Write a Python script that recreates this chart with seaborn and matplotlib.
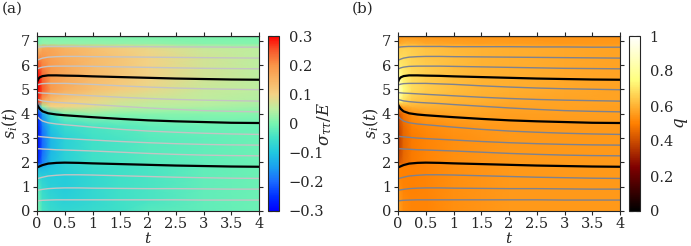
import numpy as np
import pandas as pd
import matplotlib
matplotlib.use("Agg")
import matplotlib.pyplot as plt
import seaborn as sns
from matplotlib.colors import LinearSegmentedColormap, Normalize

sns.set_style("ticks")
plt.rcParams['font.family'] = ['DejaVu Serif']
plt.rcParams['mathtext.fontset'] = 'dejavuserif'

# ---- trajectories s_i(t) ----
t_pts = [0, 0.02, 0.05, 0.1, 0.2, 0.35, 0.5, 0.75, 1.0, 1.5, 2, 2.5, 3, 3.5, 4]
line01 = [0.42, 0.42, 0.43, 0.44, 0.45, 0.46, 0.46, 0.46, 0.46, 0.46, 0.46, 0.46, 0.45, 0.45, 0.45]
line02 = [0.86, 0.86, 0.87, 0.89, 0.92, 0.94, 0.95, 0.95, 0.94, 0.93, 0.92, 0.92, 0.91, 0.90, 0.90]
line03 = [1.34, 1.34, 1.36, 1.39, 1.44, 1.47, 1.49, 1.49, 1.48, 1.45, 1.42, 1.39, 1.37, 1.35, 1.34]
line04 = [1.80, 1.81, 1.84, 1.89, 1.95, 1.98, 1.99, 1.98, 1.96, 1.93, 1.90, 1.87, 1.85, 1.83, 1.82]
line05 = [2.56, 2.56, 2.56, 2.55, 2.54, 2.52, 2.51, 2.49, 2.47, 2.42, 2.37, 2.33, 2.30, 2.28, 2.27]
line06 = [3.08, 3.07, 3.06, 3.05, 3.03, 3.00, 2.98, 2.95, 2.92, 2.86, 2.81, 2.77, 2.74, 2.72, 2.71]
line07 = [3.90, 3.85, 3.78, 3.70, 3.63, 3.58, 3.55, 3.50, 3.45, 3.36, 3.29, 3.24, 3.20, 3.17, 3.15]
line08 = [4.38, 4.30, 4.20, 4.10, 4.02, 3.97, 3.94, 3.90, 3.86, 3.79, 3.73, 3.69, 3.66, 3.63, 3.62]
line09 = [4.60, 4.58, 4.56, 4.53, 4.50, 4.47, 4.45, 4.42, 4.38, 4.31, 4.24, 4.18, 4.13, 4.10, 4.08]
line10 = [4.87, 4.87, 4.86, 4.85, 4.84, 4.82, 4.80, 4.77, 4.74, 4.68, 4.63, 4.59, 4.56, 4.54, 4.52]
line11 = [5.18, 5.20, 5.22, 5.24, 5.25, 5.25, 5.25, 5.23, 5.21, 5.15, 5.10, 5.06, 5.03, 5.01, 4.99]
line12 = [5.30, 5.42, 5.50, 5.55, 5.58, 5.58, 5.57, 5.56, 5.54, 5.51, 5.48, 5.45, 5.43, 5.41, 5.40]
line13 = [5.84, 5.86, 5.89, 5.92, 5.95, 5.96, 5.96, 5.96, 5.95, 5.93, 5.91, 5.89, 5.87, 5.86, 5.85]
line14 = [6.20, 6.22, 6.25, 6.29, 6.33, 6.35, 6.36, 6.36, 6.35, 6.34, 6.33, 6.32, 6.31, 6.30, 6.29]
line15 = [6.74, 6.74, 6.75, 6.76, 6.77, 6.77, 6.77, 6.77, 6.76, 6.76, 6.76, 6.75, 6.75, 6.74, 6.74]
line16 = [7.20, 7.20, 7.20, 7.20, 7.20, 7.20, 7.20, 7.20, 7.20, 7.20, 7.20, 7.20, 7.20, 7.20, 7.20]
lines = [line01, line02, line03, line04, line05, line06, line07, line08,
         line09, line10, line11, line12, line13, line14, line15, line16]
black_ids = [4, 8, 12, 16]

# ---- fields on a coarse (t, s) grid ----
t_grid = [0, 0.03, 0.1, 0.25, 0.5, 1, 1.5, 2, 3, 4]
s_grid = [0, 0.4, 0.9, 1.4, 1.8, 2.0, 2.5, 3.0, 3.5, 4.0, 4.3, 4.5, 5.0, 5.5, 5.9, 6.3, 6.7, 6.9, 7.2]
sigma_rows = [
    [0.05, 0.00, -0.04, -0.06, -0.07, -0.06, -0.05, -0.03, -0.02, -0.01],
    [0.04, -0.01, -0.05, -0.07, -0.08, -0.07, -0.05, -0.04, -0.02, -0.01],
    [0.00, -0.03, -0.06, -0.08, -0.09, -0.07, -0.05, -0.04, -0.02, -0.01],
    [-0.06, -0.07, -0.08, -0.09, -0.09, -0.07, -0.05, -0.04, -0.02, -0.01],
    [-0.10, -0.12, -0.12, -0.10, -0.08, -0.06, -0.05, -0.04, -0.02, -0.01],
    [-0.26, -0.25, -0.18, -0.11, -0.08, -0.05, -0.04, -0.03, -0.02, -0.01],
    [-0.28, -0.27, -0.20, -0.12, -0.08, -0.05, -0.04, -0.03, -0.02, -0.01],
    [-0.28, -0.27, -0.20, -0.12, -0.08, -0.05, -0.04, -0.03, -0.02, -0.01],
    [-0.28, -0.26, -0.18, -0.10, -0.06, -0.04, -0.03, -0.02, -0.01, -0.01],
    [-0.27, -0.24, -0.15, -0.05, 0.00, 0.02, 0.01, 0.01, 0.01, 0.01],
    [-0.20, -0.15, 0.02, 0.10, 0.10, 0.08, 0.06, 0.05, 0.04, 0.03],
    [0.28, 0.26, 0.17, 0.13, 0.11, 0.09, 0.07, 0.06, 0.05, 0.04],
    [0.30, 0.30, 0.25, 0.19, 0.16, 0.13, 0.11, 0.09, 0.06, 0.05],
    [0.30, 0.30, 0.24, 0.19, 0.17, 0.14, 0.12, 0.10, 0.07, 0.05],
    [0.28, 0.26, 0.22, 0.19, 0.17, 0.14, 0.12, 0.10, 0.07, 0.05],
    [0.05, 0.21, 0.20, 0.18, 0.16, 0.14, 0.12, 0.10, 0.07, 0.05],
    [0.00, 0.13, 0.17, 0.17, 0.15, 0.13, 0.11, 0.09, 0.06, 0.05],
    [0.00, 0.00, 0.02, 0.02, 0.02, 0.02, 0.02, 0.02, 0.01, 0.01],
    [0.00, 0.00, 0.00, 0.00, 0.00, 0.00, 0.00, 0.00, 0.00, 0.00],
]
q_rows = [
    [0.62, 0.56, 0.52, 0.51, 0.51, 0.53, 0.54, 0.55, 0.55, 0.55],
    [0.60, 0.55, 0.52, 0.51, 0.51, 0.53, 0.54, 0.55, 0.55, 0.55],
    [0.56, 0.53, 0.51, 0.50, 0.51, 0.53, 0.54, 0.55, 0.55, 0.55],
    [0.52, 0.51, 0.50, 0.50, 0.51, 0.53, 0.54, 0.55, 0.55, 0.55],
    [0.50, 0.50, 0.50, 0.50, 0.51, 0.53, 0.54, 0.55, 0.55, 0.55],
    [0.40, 0.42, 0.46, 0.49, 0.51, 0.53, 0.54, 0.55, 0.55, 0.55],
    [0.36, 0.39, 0.45, 0.49, 0.51, 0.53, 0.54, 0.55, 0.55, 0.55],
    [0.35, 0.38, 0.45, 0.49, 0.51, 0.53, 0.54, 0.55, 0.55, 0.55],
    [0.37, 0.40, 0.46, 0.50, 0.52, 0.54, 0.55, 0.55, 0.55, 0.55],
    [0.40, 0.42, 0.48, 0.53, 0.56, 0.57, 0.57, 0.56, 0.56, 0.56],
    [0.50, 0.52, 0.58, 0.60, 0.60, 0.59, 0.58, 0.57, 0.57, 0.56],
    [0.85, 0.75, 0.68, 0.64, 0.62, 0.60, 0.59, 0.58, 0.57, 0.57],
    [0.95, 0.88, 0.75, 0.68, 0.65, 0.62, 0.60, 0.59, 0.58, 0.57],
    [0.88, 0.80, 0.72, 0.68, 0.65, 0.62, 0.60, 0.59, 0.58, 0.57],
    [0.75, 0.72, 0.70, 0.67, 0.65, 0.62, 0.60, 0.59, 0.58, 0.57],
    [0.65, 0.68, 0.68, 0.66, 0.64, 0.62, 0.60, 0.59, 0.58, 0.57],
    [0.60, 0.65, 0.66, 0.65, 0.63, 0.61, 0.60, 0.59, 0.58, 0.57],
    [0.56, 0.58, 0.60, 0.60, 0.58, 0.57, 0.56, 0.56, 0.55, 0.55],
    [0.54, 0.54, 0.54, 0.54, 0.54, 0.54, 0.54, 0.54, 0.54, 0.54],
]

sigma_ticks = [-0.3, -0.2, -0.1, 0, 0.1, 0.2, 0.3]
sigma_ticklabels = ["\u22120.3", "\u22120.2", "\u22120.1", "0", "0.1", "0.2", "0.3"]
q_ticks = [0, 0.2, 0.4, 0.6, 0.8, 1]
q_ticklabels = ["0", "0.2", "0.4", "0.6", "0.8", "1"]
x_ticks = [0, 0.5, 1, 1.5, 2, 2.5, 3, 3.5, 4]
x_ticklabels = ["0", "0.5", "1", "1.5", "2", "2.5", "3", "3.5", "4"]
y_ticks = [0, 1, 2, 3, 4, 5, 6, 7]

sigma_cmap = LinearSegmentedColormap.from_list("stress", [
    (0.0, "#0000ff"), (1/12, "#0030ff"), (2/12, "#1a6aff"), (3/12, "#1aa0f0"),
    (4/12, "#20c8e0"), (5/12, "#40e0c8"), (6/12, "#78f5b0"), (7/12, "#bdeea0"),
    (8/12, "#f3d285"), (9/12, "#f8b464"), (10/12, "#f99548"), (11/12, "#f85a2c"),
    (1.0, "#ff0000")])

# long dataframe for seaborn lines
records = []
for i, ln in enumerate(lines, start=1):
    for tv, sv in zip(t_pts, ln):
        records.append({"t": tv, "s": sv, "line": i, "black": i in black_ids})
df = pd.DataFrame(records)

W, H = 691, 246
fig = plt.figure(figsize=(W / 100, H / 100), dpi=100)

def px(x0, y0, x1, y1):
    return [x0 / W, 1 - y1 / H, (x1 - x0) / W, (y1 - y0) / H]

panels = [
    dict(ax=px(37, 36, 259, 211), cax=px(268, 36, 279, 211), field=sigma_rows,
         cmap=sigma_cmap, vmin=-0.3, vmax=0.3, gray="#c4c4c4",
         ticks=sigma_ticks, tl=sigma_ticklabels, clabel=r"$\sigma_{\tau\tau}/E$",
         tag="(a)", tagx=2, lx=4.3),
    dict(ax=px(398, 36, 620, 211), cax=px(629, 36, 640, 211), field=q_rows,
         cmap=plt.get_cmap("afmhot"), vmin=0, vmax=1, gray="#7d8290",
         ticks=q_ticks, tl=q_ticklabels, clabel=r"$q$", tag="(b)", tagx=352, lx=4.0),
]

T, S = np.meshgrid(t_grid, s_grid)
for p in panels:
    ax = fig.add_axes(p["ax"])
    cax = fig.add_axes(p["cax"])
    mesh = ax.pcolormesh(T, S, np.array(p["field"]), cmap=p["cmap"],
                         norm=Normalize(p["vmin"], p["vmax"]), shading="gouraud",
                         rasterized=True)
    sns.lineplot(data=df[~df["black"]], x="t", y="s", units="line", estimator=None,
                 color=p["gray"], lw=1.0, ax=ax, sort=False)
    sns.lineplot(data=df[df["black"]], x="t", y="s", units="line", estimator=None,
                 color="black", lw=1.6, ax=ax, sort=False)
    ax.set_xlim(0, 4)
    ax.set_ylim(0, 7.2)
    ax.set_xticks(x_ticks)
    ax.set_xticklabels(x_ticklabels)
    ax.set_yticks(y_ticks)
    ax.tick_params(direction="out", length=3, width=0.8, labelsize=10.5,
                   top=True, right=True, pad=2)
    ax.tick_params(axis="x", pad=1.5)
    for sp in ax.spines.values():
        sp.set_visible(True)
        sp.set_linewidth(0.8)
    ax.set_xlabel(r"$t$", fontsize=11)
    ax.xaxis.label.set_verticalalignment("bottom")
    ax.xaxis.set_label_coords(0.5, -0.2)
    ax.set_ylabel(r"$s_i(t)$", fontsize=11.5)
    ax.yaxis.set_label_coords(-0.078, 0.5)
    cb = fig.colorbar(mesh, cax=cax, ticks=p["ticks"])
    cb.ax.set_yticklabels(p["tl"])
    cb.ax.tick_params(direction="in", length=3, width=0.8, labelsize=10.5,
                      left=True, right=True, pad=7)
    cb.outline.set_linewidth(0.8)
    cb.set_label(p["clabel"], fontsize=12)
    cb.ax.yaxis.set_label_coords(p["lx"], 0.5)
    fig.text(p["tagx"] / W, 1 - 2 / H, p["tag"], ha="left", va="top", fontsize=11)

fig.savefig("out.png", dpi=100)
